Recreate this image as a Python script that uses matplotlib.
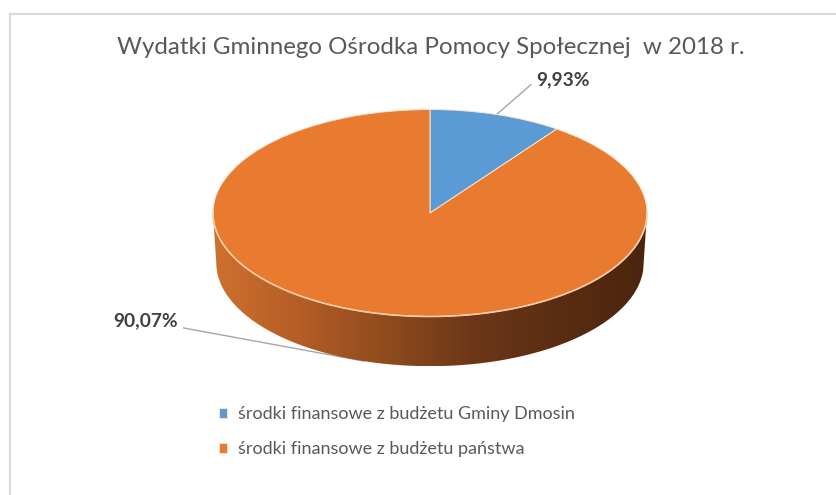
import numpy as np
import matplotlib.pyplot as plt
from matplotlib.path import Path
from matplotlib.patches import PathPatch
from matplotlib.lines import Line2D
from matplotlib.colors import LinearSegmentedColormap

categories = ['środki finansowe z budżetu Gminy Dmosin',
              'środki finansowe z budżetu państwa']
shares = [9.93, 90.07]
share_labels = ['9,93%', '90,07%']
colors = ['#5B9BD5', '#E97B31']
title = 'Wydatki Gminnego Ośrodka Pomocy Społecznej  w 2018 r.'

plt.rcParams['font.family'] = ['Lato', 'DejaVu Sans']

W, H = 837, 495
CX, CY = 430, 213      # pie centre in pixels
RX, RY = 217, 103.5    # ellipse radii in pixels
DEPTH = 0.48           # disc thickness, in y radius units

fig = plt.figure(figsize=(W / 100, H / 100), dpi=100)
ax = fig.add_axes([0, 0, 1, 1])

wedges, _ = ax.pie(shares, colors=colors, startangle=90, counterclock=False,
                   wedgeprops=dict(edgecolor='#fbe3d0', linewidth=0.7, zorder=3))

# side of the 3d disc with a left-to-right shading
t = np.linspace(np.pi, 2 * np.pi, 300)
top_x, top_y = np.cos(t), np.sin(t)
bot_x, bot_y = 0.985 * np.cos(t[::-1]), np.sin(t[::-1]) - DEPTH
verts = np.column_stack([np.r_[top_x, bot_x], np.r_[top_y, bot_y]])
side = PathPatch(Path(verts), facecolor='none', edgecolor='none')
ax.add_patch(side)
cmap = LinearSegmentedColormap.from_list(
    'side', ['#CE712F', '#B45D26', '#8E4B1E', '#6C3717', '#5A2D12', '#4A250E'])
grad = np.linspace(0, 1, 256).reshape(1, -1)
img = ax.imshow(grad, cmap=cmap, extent=(-1, 1, -1 - DEPTH, 0),
                aspect='auto', zorder=2)
img.set_clip_path(side)
ax.plot(top_x, top_y, color='#F9CBA5', lw=1.2, zorder=4)

ax.set_aspect('auto')
ax.set_xlim(-CX / RX, (W - CX) / RX)
ax.set_ylim(-(H - CY) / RY, CY / RY)
ax.axis('off')

# data labels with leader lines
cum = np.cumsum([0] + shares)
mid = np.deg2rad(90 - 3.6 * (cum[:-1] + cum[1:]) / 2)
lab_style = dict(fontsize=13.8, fontweight='bold', color='#404040', va='center',
                 textcoords='figure pixels', zorder=1)
ax.annotate(share_labels[0], xy=(np.cos(mid[0]), np.sin(mid[0])),
            xytext=(536, H - 80), ha='left',
            arrowprops=dict(arrowstyle='-', color='#a6a6a6', lw=1,
                            shrinkA=2, shrinkB=0,
                            connectionstyle='angle,angleA=180,angleB=41,rad=0'),
            **lab_style)
ax.annotate(share_labels[1], xy=(0.985 * np.cos(mid[1]), np.sin(mid[1]) - DEPTH),
            xytext=(178, H - 321), ha='right',
            arrowprops=dict(arrowstyle='-', color='#a6a6a6', lw=1,
                            shrinkA=2, shrinkB=0),
            **lab_style)

fig.text(431 / W, 1 - 47 / H, title, ha='center', va='center',
         fontsize=17.4, color='#595959')

fig.legend(wedges, categories, loc='upper left',
           bbox_to_anchor=(203 / W, 1 - 390 / H), frameon=False,
           fontsize=13, labelcolor='#595959', handlelength=0.45,
           handleheight=0.45, handletextpad=0.6, labelspacing=1.05)

# chart area border (only top and left visible)
fig.add_artist(Line2D([10 / W, 1], [1 - 14 / H, 1 - 14 / H], color='#d9d9d9', lw=1.5))
fig.add_artist(Line2D([10 / W, 10 / W], [0, 1 - 14 / H], color='#d9d9d9', lw=1.5))

fig.savefig('out.png', dpi=100, facecolor='white')
